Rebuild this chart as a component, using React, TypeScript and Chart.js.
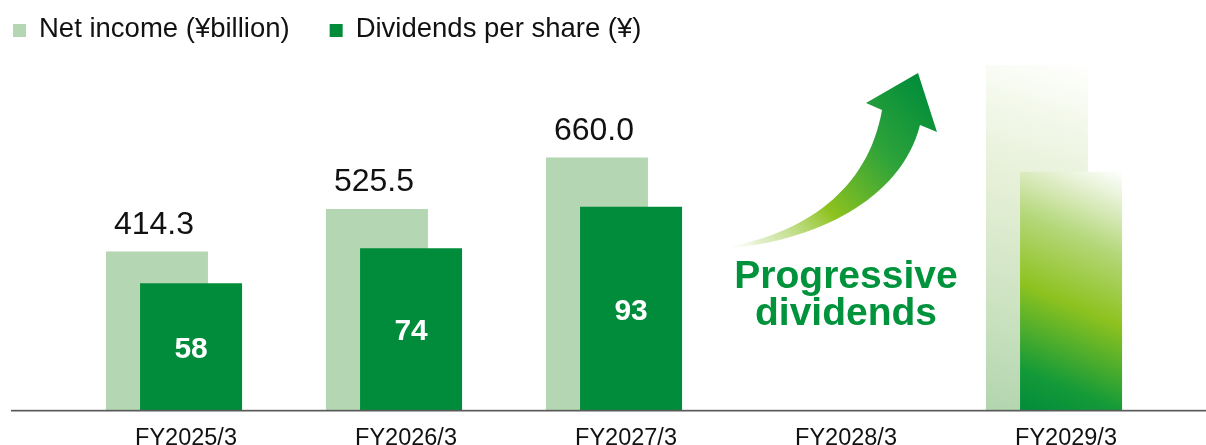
import { useEffect, useRef } from "react";
import { Chart, registerables } from "chart.js";

Chart.register(...registerables);

// ---- data ----
const categories = ["FY2025/3", "FY2026/3", "FY2027/3", "FY2028/3", "FY2029/3"];
const netIncome: (number | null)[] = [414.3, 525.5, 660.0, null, 902];
const dividends: (number | null)[] = [58, 74, 93, null, 109];
const outlook = [false, false, false, true, true];
const seriesNames = ["Net income (¥billion)", "Dividends per share (¥)"];
const calloutLines = ["Progressive", "dividends"];

// ---- style ----
const LIGHT = "#b4d6b2";
const DARK = "#008c3a";
const TEXT_GREEN = "#00933c";
const FONT = '"Liberation Sans", Arial, Helvetica, sans-serif';
const BAR_W = 102;
const LIGHT_SHIFT = -0.132;
const DARK_SHIFT = 0.023;

function barFill(ctx: any, which: number) {
  const solid = which === 0 ? LIGHT : DARK;
  if (ctx.type !== "data") return solid;
  const i = ctx.dataIndex;
  if (!outlook[i]) return solid;
  const chart = ctx.chart;
  const xs = chart.scales[which === 0 ? "x" : "x2"];
  const ys = chart.scales[which === 0 ? "y" : "y2"];
  const v = (which === 0 ? netIncome : dividends)[i];
  if (!xs || !ys || v == null) return solid;
  const cx = xs.getPixelForValue(i + (which === 0 ? LIGHT_SHIFT : DARK_SHIFT));
  const top = ys.getPixelForValue(v);
  const bottom = ys.getPixelForValue(0);
  if (!isFinite(cx) || !isFinite(top) || !isFinite(bottom)) return solid;
  const g = chart.ctx.createLinearGradient(cx - BAR_W / 2, bottom, cx + BAR_W / 2, top);
  if (which === 0) {
    g.addColorStop(0, "#b2d5ae");
    g.addColorStop(0.3, "#cde3c2");
    g.addColorStop(0.6, "#e4efd5");
    g.addColorStop(0.85, "#f4f9ec");
    g.addColorStop(1, "#ffffff");
  } else {
    g.addColorStop(0, "#008c3a");
    g.addColorStop(0.15, "#149a38");
    g.addColorStop(0.45, "#8dc21f");
    g.addColorStop(0.7, "#b4d779");
    g.addColorStop(0.88, "#e2efcd");
    g.addColorStop(1, "#ffffff");
  }
  return g;
}

const decor = {
  id: "decor",
  beforeDatasetsDraw(chart: any) {
    const ctx = chart.ctx as CanvasRenderingContext2D;
    const xs = chart.scales.x;
    const ys = chart.scales.y;
    const cx = xs.getPixelForValue(3);
    const y0 = ys.getPixelForValue(0);
    const P = (dx: number, dy: number): [number, number] => [cx + dx, y0 - dy];

    // curved arrow
    ctx.save();
    const t = P(-124, 162);
    const tip = P(72, 337);
    const g = ctx.createLinearGradient(t[0], t[1], tip[0], tip[1]);
    g.addColorStop(0, "rgba(255,255,255,0)");
    g.addColorStop(0.12, "rgba(214,232,180,0.7)");
    g.addColorStop(0.4, "#8dc21f");
    g.addColorStop(0.7, "#2ea33a");
    g.addColorStop(1, "#008c3a");
    ctx.fillStyle = g;
    ctx.beginPath();
    ctx.moveTo(...t);
    ctx.bezierCurveTo(...P(-41, 176), ...P(22, 220), ...P(36, 300));
    ctx.lineTo(...P(20, 307));
    ctx.lineTo(...tip);
    ctx.lineTo(...P(91, 278));
    ctx.lineTo(...P(74, 285));
    ctx.bezierCurveTo(...P(55, 210), ...P(-31, 168), ...P(-124, 161));
    ctx.closePath();
    ctx.fill();

    // callout text
    ctx.fillStyle = TEXT_GREEN;
    ctx.font = `bold 39px ${FONT}`;
    ctx.textAlign = "center";
    ctx.textBaseline = "alphabetic";
    ctx.fillText(calloutLines[0], cx, y0 - 122);
    ctx.fillText(calloutLines[1], cx, y0 - 85);
    ctx.restore();
  },
  afterDatasetsDraw(chart: any) {
    const ctx = chart.ctx as CanvasRenderingContext2D;
    const y0 = chart.scales.y.getPixelForValue(0);
    ctx.save();
    // baseline
    ctx.fillStyle = "#5a5a5a";
    ctx.fillRect(11, y0 - 0.2, chart.width - 11, 1.7);

    // value labels
    const m0 = chart.getDatasetMeta(0);
    const m1 = chart.getDatasetMeta(1);
    ctx.textAlign = "center";
    for (let i = 0; i < categories.length; i++) {
      if (outlook[i]) continue;
      const a = netIncome[i];
      const el0 = m0.data[i];
      if (a != null && el0) {
        ctx.fillStyle = "#111";
        ctx.font = `32px ${FONT}`;
        ctx.textBaseline = "alphabetic";
        ctx.fillText(a.toFixed(1), el0.x - 3, el0.y - 18);
      }
      const b = dividends[i];
      const el1 = m1.data[i];
      if (b != null && el1) {
        ctx.fillStyle = "#ffffff";
        ctx.font = `bold 30px ${FONT}`;
        ctx.textBaseline = "middle";
        ctx.fillText(String(b), el1.x, (el1.y + el1.base) / 2 + 3);
      }
    }
    ctx.restore();
  },
  afterDraw(chart: any) {
    const ctx = chart.ctx as CanvasRenderingContext2D;
    ctx.save();
    ctx.font = `27.5px ${FONT}`;
    ctx.textBaseline = "alphabetic";
    ctx.textAlign = "left";
    let x = 13;
    const colors = [LIGHT, DARK];
    seriesNames.forEach((name, k) => {
      ctx.fillStyle = colors[k];
      ctx.fillRect(x, 24, 13, 13);
      ctx.fillStyle = "#111";
      ctx.fillText(name, x + 26, 37);
      x += 26 + ctx.measureText(name).width + 40;
    });
    ctx.restore();
  },
};

export default function App() {
  const ref = useRef<HTMLCanvasElement | null>(null);
  useEffect(() => {
    if (!ref.current) return;
    const tickSetter = (scale: any) => {
      scale.ticks = categories.map((_, i) => ({ value: i }));
    };
    const barStyle = {
      grouped: false,
      categoryPercentage: 1,
      barPercentage: 10,
      maxBarThickness: BAR_W,
    };
    const chart = new Chart(ref.current, {
      type: "bar",
      data: {
        datasets: [
          {
            label: seriesNames[0],
            data: netIncome.map((v, i) => ({ x: i + LIGHT_SHIFT, y: v })) as any,
            xAxisID: "x",
            yAxisID: "y",
            backgroundColor: (c: any) => barFill(c, 0),
            order: 2,
            ...barStyle,
          },
          {
            label: seriesNames[1],
            data: dividends.map((v, i) => ({ x: i + DARK_SHIFT, y: v })) as any,
            xAxisID: "x2",
            yAxisID: "y2",
            backgroundColor: (c: any) => barFill(c, 1),
            order: 1,
            ...barStyle,
          },
        ],
      },
      options: {
        animation: false,
        responsive: false,
        events: [],
        layout: { padding: { left: 76, right: 30, top: 27.5, bottom: 0 } },
        plugins: { legend: { display: false }, tooltip: { enabled: false } },
        scales: {
          x: {
            type: "linear",
            offset: false,
            min: -0.5,
            max: 4.5,
            grid: { display: false },
            border: { display: false },
            afterBuildTicks: tickSetter,
            afterFit: (s: any) => {
              s.height = 35;
            },
            ticks: {
              autoSkip: false,
              maxRotation: 0,
              padding: 6,
              color: "#111",
              font: { family: FONT, size: 23.5 },
              callback: (v: any) => categories[v as number] ?? "",
            },
          },
          x2: {
            type: "linear",
            display: false,
            offset: false,
            min: -0.5,
            max: 4.5,
            afterBuildTicks: tickSetter,
          },
          y: { display: false, min: 0, max: 1000 },
          y2: { display: false, min: 0, max: 175 },
        },
      },
      plugins: [decor as any],
    });
    return () => chart.destroy();
  }, []);
  return (
    <div style={{ position: "absolute", left: 0, top: 0, width: 1206, height: 445, background: "#fff" }}>
      <canvas ref={ref} width={1206} height={445} style={{ display: "block" }} />
    </div>
  );
}
